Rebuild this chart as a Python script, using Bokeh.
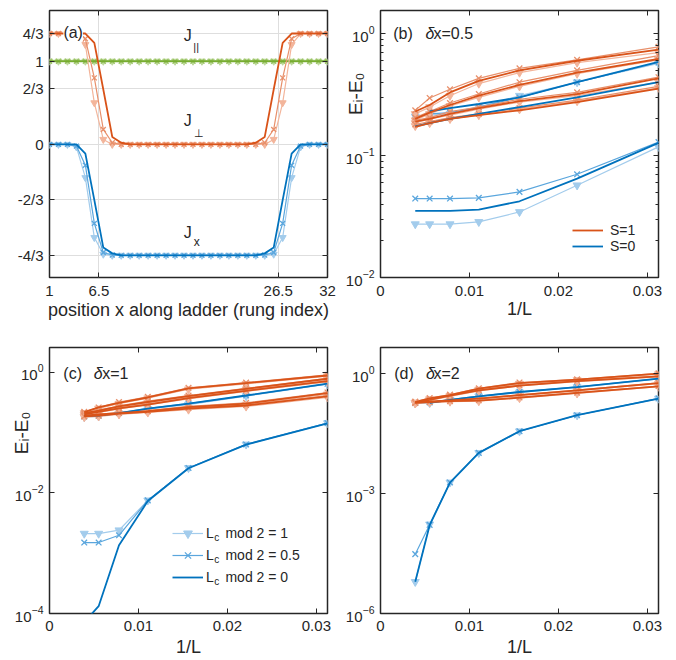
import numpy as np
from bokeh.plotting import figure
from bokeh.layouts import column, row
from bokeh.models import (FixedTicker, CustomJSTickFormatter, LinearAxis, LogAxis,
                          Label, Legend, LegendItem)
from bokeh.embed import file_html
from bokeh.resources import INLINE

nan = float("nan")
FONT = "Liberation Sans"
INK = "#262626"
BLUE, BLUE_M, BLUE_L = "#0072BD", "#5AA6DD", "#A3CCEC"
ORANGE, ORANGE_M, ORANGE_L = "#D95319", "#E8906B", "#F3B59B"
GREEN, GREEN_M, GREEN_L = "#77AC30", "#9CC467", "#BDD99A"

# ---------------- panel (a): coupling profiles ----------------
rung = list(range(1, 33))
a_xticks = [1, 6.5, 26.5, 32]
a_yticks = [-4/3, -2/3, 0, 2/3, 1, 4/3]
Jpar_0 = [1.0] * 32
Jpar_05 = [1.0] * 32
Jpar_1 = [1.0] * 32
Jperp_0 = [4/3]*5 + [1.22, 0.66, 0.09, 0.02] + [0]*14 + [0.02, 0.09, 0.66, 1.22] + [4/3]*5
Jperp_05 = [4/3]*4 + [1.27, 0.80, 0.18, 0.02, 0] + [0]*14 + [0, 0.02, 0.18, 0.80, 1.27] + [4/3]*4
Jperp_1 = [4/3]*4 + [1.20, 0.50, 0.06, 0.0, 0] + [0]*14 + [0, 0.0, 0.06, 0.50, 1.20] + [4/3]*4
Jx_0 = [0]*4 + [-0.11, -0.67, -1.24, -1.31] + [-4/3]*16 + [-1.31, -1.24, -0.67, -0.11] + [0]*4
Jx_05 = [0]*3 + [-0.02, -0.25, -0.95, -1.30, -1.33] + [-4/3]*16 + [-1.33, -1.30, -0.95, -0.25, -0.02] + [0]*3
Jx_1 = [0]*3 + [-0.03, -0.40, -1.12, -1.32, -4/3] + [-4/3]*16 + [-4/3, -1.32, -1.12, -0.40, -0.03] + [0]*3

# ---------------- gaps vs 1/L ----------------
L_sizes = [256, 181, 128, 90.5, 64, 45.25, 32]
gap_xticks = [0, 0.01, 0.02, 0.03]

# (b) dx = 0.5
b_S0_tri = [0.0274, 0.0274, 0.0274, 0.0286, 0.0345, 0.0571, 0.118]
b_S0_x = [0.0444, 0.0444, 0.0444, 0.0450, 0.0504, 0.0703, 0.129]
b_S0_line = [0.0352, 0.0352, 0.0352, 0.0360, 0.0422, 0.0648, 0.127]
b_S0ex_tri = [0.21, 0.215, 0.22, 0.25, 0.31, 0.40, 0.57]
b_S0ex_x = [0.205, 0.22, 0.225, 0.25, 0.30, 0.40, 0.58]
b_S0ex_line = [nan, 0.231, 0.245, 0.265, 0.30, 0.40, 0.586]
b_S0ex2_line = [0.174, 0.185, 0.20, 0.22, 0.25, 0.30, 0.40]
b_O1_tri = [0.22, 0.25, 0.31, 0.39, 0.48, 0.58, 0.70]
b_O1_x = [0.235, 0.297, 0.35, 0.43, 0.52, 0.61, 0.78]
b_O1_line = [0.23, 0.26, 0.33, 0.41, 0.50, 0.60, 0.74]
b_O2_tri = [0.195, 0.22, 0.255, 0.30, 0.37, 0.47, 0.61]
b_O2_x = [0.205, 0.23, 0.27, 0.32, 0.40, 0.50, 0.66]
b_O2_line = [0.20, 0.225, 0.26, 0.31, 0.38, 0.48, 0.62]
b_O3_tri = [0.185, 0.20, 0.215, 0.24, 0.275, 0.31, 0.40]
b_O3_x = [0.195, 0.205, 0.23, 0.25, 0.29, 0.33, 0.44]
b_O3_line = [0.19, 0.20, 0.22, 0.245, 0.28, 0.32, 0.43]
b_O4_tri = [0.175, 0.185, 0.20, 0.215, 0.24, 0.28, 0.36]
b_O4_x = [0.18, 0.19, 0.205, 0.22, 0.245, 0.285, 0.37]
b_O4_line = [0.172, 0.185, 0.20, 0.215, 0.235, 0.275, 0.354]

# (c) dx = 1
c_S0_tri = [0.00211, 0.00211, 0.0024, 0.0075, 0.0258, 0.0634, 0.143]
c_S0_x = [0.0015, 0.0015, 0.00198, 0.0075, 0.0258, 0.0634, 0.143]
c_S0_line = [7.2e-5, 1.32e-4, 0.00135, 0.0073, 0.0255, 0.063, 0.142]
c_S0ex_tri = [0.18, 0.185, 0.205, 0.245, 0.29, 0.40, 0.63]
c_S0ex_x = [0.185, 0.19, 0.21, 0.25, 0.30, 0.41, 0.64]
c_S0ex_line = [0.19, 0.19, 0.21, 0.248, 0.30, 0.41, 0.643]
c_O1_tri = [0.21, 0.25, 0.30, 0.37, 0.52, 0.64, 0.86]
c_O1_x = [0.22, 0.26, 0.32, 0.39, 0.55, 0.67, 0.90]
c_O1_line = [0.218, 0.26, 0.31, 0.38, 0.54, 0.66, 0.88]
c_O2_tri = [0.20, 0.225, 0.265, 0.31, 0.39, 0.52, 0.76]
c_O2_x = [0.21, 0.235, 0.275, 0.33, 0.41, 0.54, 0.79]
c_O2_line = [0.21, 0.23, 0.27, 0.32, 0.40, 0.53, 0.777]
c_O3_tri = [0.195, 0.215, 0.245, 0.285, 0.36, 0.48, 0.69]
c_O3_x = [0.20, 0.225, 0.255, 0.295, 0.375, 0.50, 0.72]
c_O3_line = [0.20, 0.22, 0.25, 0.29, 0.37, 0.49, 0.71]
c_O4_tri = [0.185, 0.195, 0.205, 0.22, 0.255, 0.29, 0.43]
c_O4_x = [0.19, 0.20, 0.215, 0.23, 0.27, 0.31, 0.46]
c_O4_line = [0.19, 0.20, 0.21, 0.226, 0.263, 0.30, 0.449]
c_O5_tri = [0.18, 0.185, 0.20, 0.215, 0.24, 0.27, 0.38]
c_O5_x = [0.185, 0.19, 0.21, 0.225, 0.255, 0.285, 0.41]
c_O5_line = [0.185, 0.19, 0.205, 0.22, 0.248, 0.28, 0.396]

# (d) dx = 2
d_S0_tri = [6.2e-6, 1.7e-4, 0.0019, 0.0104, 0.0362, 0.091, 0.237]
d_S0_x = [3.05e-5, 1.65e-4, 0.0019, 0.0104, 0.0362, 0.091, 0.24]
d_S0_line = [6.2e-6, 1.62e-4, 0.00188, 0.0104, 0.0362, 0.091, 0.237]
d_S0ex_tri = [0.18, 0.185, 0.22, 0.27, 0.34, 0.46, 0.74]
d_S0ex_x = [0.185, 0.19, 0.225, 0.275, 0.35, 0.47, 0.75]
d_S0ex_line = [nan, 0.186, 0.22, 0.27, 0.347, 0.46, 0.75]
d_O1_tri = [0.19, 0.23, 0.28, 0.40, 0.56, 0.69, 0.97]
d_O1_x = [0.20, 0.245, 0.30, 0.43, 0.60, 0.72, 1.02]
d_O1_line = [0.195, 0.24, 0.29, 0.42, 0.58, 0.71, 1.0]
d_O2_tri = [0.185, 0.215, 0.27, 0.37, 0.49, 0.63, 0.83]
d_O2_x = [0.19, 0.225, 0.285, 0.385, 0.51, 0.66, 0.87]
d_O2_line = [0.19, 0.22, 0.28, 0.38, 0.50, 0.65, 0.85]
d_O3_tri = [0.185, 0.195, 0.21, 0.23, 0.28, 0.37, 0.56]
d_O3_x = [0.19, 0.20, 0.22, 0.24, 0.295, 0.385, 0.59]
d_O3_line = [0.19, 0.20, 0.215, 0.237, 0.29, 0.38, 0.58]
d_O4_tri = [0.18, 0.19, 0.20, 0.205, 0.245, 0.32, 0.47]
d_O4_x = [0.185, 0.195, 0.205, 0.215, 0.255, 0.335, 0.49]
d_O4_line = [0.185, 0.195, 0.205, 0.21, 0.25, 0.33, 0.48]

invL = 1.0 / np.asarray(L_sizes, dtype=float)
NB = "\u00a0"
GAP_YLABEL = "E\u1d62-E\u2080"


def arr(v):
    return np.asarray(v, dtype=float)


def base_fig(x_range, y_range, ylog, borders):
    l, r, t, b = borders
    p = figure(width=338, height=330, x_range=x_range, y_range=y_range,
               y_axis_type="log" if ylog else "linear",
               output_backend="svg", toolbar_location=None,
               min_border_left=l, min_border_right=r, min_border_top=t, min_border_bottom=b,
               background_fill_color="white", border_fill_color="white")
    p.outline_line_color = INK
    p.outline_line_width = 1.5
    p.xgrid.visible = False
    p.ygrid.visible = False
    return p


def style_axis(ax, size="15px"):
    ax.axis_line_color = None
    ax.major_tick_in = 5
    ax.major_tick_out = 0
    ax.minor_tick_in = 3
    ax.minor_tick_out = 0
    ax.major_tick_line_color = INK
    ax.minor_tick_line_color = INK
    ax.major_label_text_font = FONT
    ax.major_label_text_font_size = size
    ax.major_label_text_color = INK
    ax.axis_label_text_font = FONT
    ax.axis_label_text_font_size = "18px"
    ax.axis_label_text_font_style = "normal"
    ax.axis_label_text_color = INK


def finish_axes(p, xticker, yticker, ylog, xfmt, yfmt, xlabel, label_standoff,
                xstandoff=7):
    xa = p.xaxis[0]
    ya = p.yaxis[0]
    style_axis(xa)
    style_axis(ya)
    xa.ticker = xticker
    ya.ticker = yticker
    xa.formatter = xfmt
    if yfmt is not None:
        ya.formatter = yfmt
    xa.major_label_standoff = xstandoff
    ya.major_label_standoff = 6
    xa.axis_label = xlabel
    xa.axis_label_standoff = label_standoff
    blank = CustomJSTickFormatter(code="return '';")
    top = LinearAxis(ticker=xticker, formatter=blank)
    right = (LogAxis if ylog else LinearAxis)(ticker=yticker, formatter=blank)
    for ax in (top, right):
        style_axis(ax, "0px")
        ax.major_label_standoff = 0
    p.add_layout(top, "above")
    p.add_layout(right, "right")


def gap_ylabel(p, pad, standoff):
    ya = p.yaxis[0]
    ya.axis_label = NB * pad + GAP_YLABEL
    ya.axis_label_text_font_size = "19px"
    ya.axis_label_standoff = standoff


def lab(p, x, y, text, size="16px", align="center", style="normal", angle=0.0,
        baseline="middle", bg=None):
    p.add_layout(Label(x=x, y=y, text=text, text_font=FONT, text_font_size=size,
                       text_align=align, text_baseline=baseline, text_font_style=style,
                       angle=angle, text_color=INK, background_fill_color=bg))


def draw_group(p, xs, tri, xm, cl, cm, size=8):
    r1 = p.line(xs, arr(tri), line_color=cl, line_width=1.2)
    r2 = p.scatter(xs, arr(tri), marker="inverted_triangle", size=size,
                   fill_color=cl, line_color=cl)
    r3 = p.line(xs, arr(xm), line_color=cm, line_width=1.2)
    r4 = p.scatter(xs, arr(xm), marker="x", size=size, line_color=cm, line_width=1.3)
    return (r1, r2), (r3, r4)


def draw_dark(p, xs, line, cd, width=1.8):
    return p.line(xs, arr(line), line_color=cd, line_width=width)


gap_xfmt = CustomJSTickFormatter(code="return tick === 0 ? '0' : tick.toFixed(2);")

# ================= (a) =================
pa = base_fig((1, 32), (-1.6, 1.61), False, (49, 11, 10, 53))
a_xt = FixedTicker(ticks=a_xticks, minor_ticks=[])
a_yt = FixedTicker(ticks=a_yticks, minor_ticks=[])
a_yfmt = CustomJSTickFormatter(code="""
const m = {'-4':'-4/3','-2':'-2/3','0':'0','2':'2/3','3':'1','4':'4/3'};
return m[String(Math.round(tick*3))];""")
finish_axes(pa, a_xt, a_yt, False, CustomJSTickFormatter(code="return String(tick);"),
            a_yfmt, "position x along ladder (rung index)", 1, xstandoff=8)
pa.xgrid.visible = True
pa.ygrid.visible = True
pa.xgrid.ticker = a_xt
pa.ygrid.ticker = a_yt
pa.xgrid.grid_line_color = "#DEDEDE"
pa.ygrid.grid_line_color = "#DEDEDE"
for tri, xm, line, cl, cm, cd in [(Jpar_1, Jpar_05, Jpar_0, GREEN_L, GREEN_M, GREEN),
                                  (Jperp_1, Jperp_05, Jperp_0, ORANGE_L, ORANGE_M, ORANGE),
                                  (Jx_1, Jx_05, Jx_0, BLUE_L, BLUE_M, BLUE)]:
    draw_group(pa, rung, tri, xm, cl, cm, size=7)
    draw_dark(pa, rung, line, cd)
lab(pa, 3.64, 1.34, "(a)", bg="white")
lab(pa, 16.41, 1.31, "J")
lab(pa, 17.36, 1.17, "||", size="11px")
lab(pa, 16.41, 0.282, "J")
lab(pa, 17.64, 0.143, "\u22a5", size="11px")
lab(pa, 16.41, -1.06, "J")
lab(pa, 17.41, -1.175, "x", size="12px")

# ================= (b) =================
pb = base_fig((0, 1/32), (0.01, 1.55), True, (42, 18, 10, 53))
b_yt = FixedTicker(ticks=[0.01, 0.1, 1.0],
                   minor_ticks=[0.02, 0.03, 0.04, 0.05, 0.06, 0.07, 0.08, 0.09,
                                0.2, 0.3, 0.4, 0.5, 0.6, 0.7, 0.8, 0.9])
g_xt = FixedTicker(ticks=gap_xticks, minor_ticks=[])
finish_axes(pb, g_xt, b_yt, True, gap_xfmt, None, "1/L", 0, xstandoff=8)
gap_ylabel(pb, 19, -23)
draw_group(pb, invL, b_S0_tri, b_S0_x, BLUE_L, BLUE_M)
draw_group(pb, invL, b_S0ex_tri, b_S0ex_x, BLUE_L, BLUE_M)
b_orange = [(b_O1_tri, b_O1_x, b_O1_line), (b_O2_tri, b_O2_x, b_O2_line),
            (b_O3_tri, b_O3_x, b_O3_line), (b_O4_tri, b_O4_x, b_O4_line)]
for tri, xm, line in b_orange:
    draw_group(pb, invL, tri, xm, ORANGE_L, ORANGE_M)
rb_blue = draw_dark(pb, invL, b_S0_line, BLUE)
draw_dark(pb, invL, b_S0ex2_line, BLUE)
draw_dark(pb, invL, b_S0ex_line, BLUE)
rb_or = None
for tri, xm, line in b_orange:
    r = draw_dark(pb, invL, line, ORANGE)
    rb_or = rb_or or r
leg_b = Legend(items=[LegendItem(label="S=1", renderers=[rb_or]),
                      LegendItem(label="S=0", renderers=[rb_blue])],
               location=(192, 23), border_line_color=None, background_fill_alpha=0,
               padding=0, margin=0, spacing=0, glyph_width=31, glyph_height=14,
               label_height=14, label_standoff=7, label_text_font=FONT,
               label_text_font_size="14px", label_text_color=INK)
pb.add_layout(leg_b)
lab(pb, 0.00253, 1.0, "(b)")
lab(pb, 0.00556, 1.0, "\u03b4", style="italic")
lab(pb, 0.00596, 1.0, "x=0.5", align="left")

# ================= (c) =================
pc = base_fig((0, 1/32), (1e-4, 2.56), True, (49, 11, 17, 47))
c_yt = FixedTicker(ticks=[1e-4, 1e-2, 1.0], minor_ticks=[])
finish_axes(pc, g_xt, c_yt, True, gap_xfmt, None, "1/L", 3)
gap_ylabel(pc, 18, -20)
leg_r_tri, leg_r_x = draw_group(pc, invL, c_S0_tri, c_S0_x, BLUE_L, BLUE_M)
draw_group(pc, invL, c_S0ex_tri, c_S0ex_x, BLUE_L, BLUE_M)
c_orange = [(c_O1_tri, c_O1_x, c_O1_line), (c_O2_tri, c_O2_x, c_O2_line),
            (c_O3_tri, c_O3_x, c_O3_line), (c_O4_tri, c_O4_x, c_O4_line),
            (c_O5_tri, c_O5_x, c_O5_line)]
for tri, xm, line in c_orange:
    draw_group(pc, invL, tri, xm, ORANGE_L, ORANGE_M)
rc_blue = draw_dark(pc, invL, c_S0_line, BLUE)
draw_dark(pc, invL, c_S0ex_line, BLUE)
for tri, xm, line in c_orange:
    draw_dark(pc, invL, line, ORANGE)
leg_c = Legend(items=[LegendItem(label="L" + NB * 3 + "mod 2 = 1", renderers=list(leg_r_tri)),
                      LegendItem(label="L" + NB * 3 + "mod 2 = 0.5", renderers=list(leg_r_x)),
                      LegendItem(label="L" + NB * 3 + "mod 2 = 0", renderers=[rc_blue])],
               location=(123, 25), border_line_color=None, background_fill_alpha=0,
               padding=0, margin=0, spacing=0, glyph_width=31, glyph_height=22,
               label_height=22, label_standoff=3, label_text_font=FONT,
               label_text_font_size="14px", label_text_color=INK)
pc.add_layout(leg_c)
for yy in (1.83e-3, 7.93e-4, 3.43e-4):
    lab(pc, 0.018795, yy, "c", size="10px")
lab(pc, 0.002608, 0.941, "(c)")
lab(pc, 0.005474, 0.941, "\u03b4", style="italic")
lab(pc, 0.005924, 0.941, "x=1", align="left")

# ================= (d) =================
pd_ = base_fig((0, 1/32), (1e-6, 4.5), True, (42, 18, 17, 47))
d_yt = FixedTicker(ticks=[1e-6, 1e-3, 1.0], minor_ticks=[])
finish_axes(pd_, g_xt, d_yt, True, gap_xfmt, None, "1/L", 3)
draw_group(pd_, invL, d_S0_tri, d_S0_x, BLUE_L, BLUE_M)
draw_group(pd_, invL, d_S0ex_tri, d_S0ex_x, BLUE_L, BLUE_M)
d_orange = [(d_O1_tri, d_O1_x, d_O1_line), (d_O2_tri, d_O2_x, d_O2_line),
            (d_O3_tri, d_O3_x, d_O3_line), (d_O4_tri, d_O4_x, d_O4_line)]
for tri, xm, line in d_orange:
    draw_group(pd_, invL, tri, xm, ORANGE_L, ORANGE_M)
draw_dark(pd_, invL, d_S0_line, BLUE)
draw_dark(pd_, invL, d_S0ex_line, BLUE)
for tri, xm, line in d_orange:
    draw_dark(pd_, invL, line, ORANGE)
lab(pd_, 0.002642, 1.0, "(d)")
lab(pd_, 0.00562, 1.0, "\u03b4", style="italic")
lab(pd_, 0.005958, 1.0, "x=2", align="left")

layout = column(row(pa, pb), row(pc, pd_))
open("out.html", "w").write(file_html(layout, INLINE))
